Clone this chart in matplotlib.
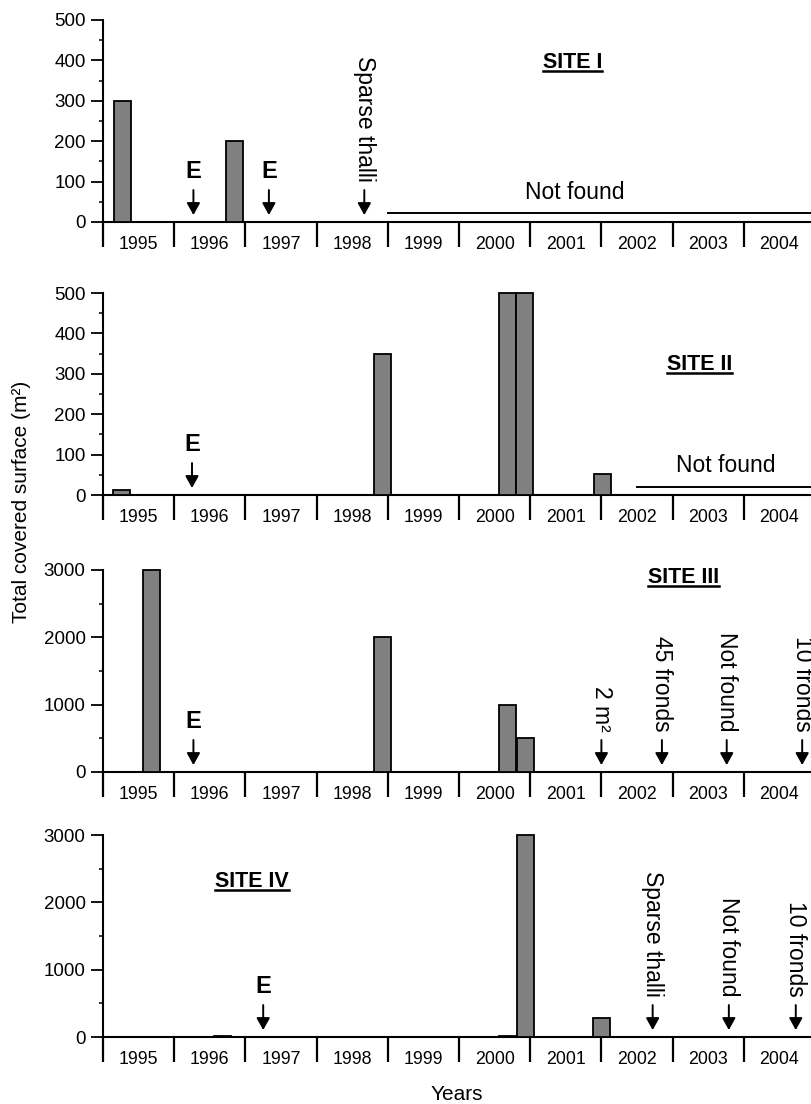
import matplotlib
matplotlib.use("Agg")
import matplotlib.pyplot as plt
from matplotlib.lines import Line2D


YEARS = list(range(1995, 2005))

# survey dates (decimal years) and total covered surface (m2)
SITE1_DATES = [1995.27, 1996.85]
SITE1_AREA = [300, 200]
SITE2_DATES = [1995.26, 1998.93, 2000.68, 2000.92, 2002.01]
SITE2_AREA = [13, 350, 500, 500, 52]
SITE3_DATES = [1995.68, 1998.93, 2000.68, 2000.93, 2002.0]
SITE3_AREA = [3000, 2000, 1000, 500, 2]
SITE4_DATES = [1996.68, 2000.68, 2000.93, 2002.0]
SITE4_AREA = [10, 20, 3000, 280]

# arrow notes
SITE1_NOTE_DATES = [1996.27, 1997.33, 1998.67]
SITE1_NOTES = ["E", "E", "Sparse thalli"]
SITE2_NOTE_DATES = [1996.25]
SITE2_NOTES = ["E"]
SITE3_NOTE_DATES = [1996.27, 2002.0, 2002.85, 2003.76, 2004.82]
SITE3_NOTES = ["E", "2 m²", "45 fronds", "Not found", "10 fronds"]
SITE4_NOTE_DATES = [1997.25, 2002.72, 2003.79, 2004.73]
SITE4_NOTES = ["E", "Sparse thalli", "Not found", "10 fronds"]

# "Not found" periods (start date)
SITE1_NOT_FOUND_FROM = 1999.0
SITE2_NOT_FOUND_FROM = 2002.5

FIG_W, FIG_H = 812, 1104
LEFT_PX = 103
YEAR_PX = 71.2
X_MAX = 1995 + (FIG_W - LEFT_PX) / YEAR_PX
BAR_WIDTH = 0.24
BAR_COLOR = "#808080"

plt.rcParams["font.family"] = ["Liberation Sans", "DejaVu Sans"]


def make_axes(fig, zero_px, ymax, major, minor):
    height = 202 / FIG_H
    ax = fig.add_axes([LEFT_PX / FIG_W, 1 - zero_px / FIG_H,
                       (FIG_W - LEFT_PX) / FIG_W, height])
    ax.set_xlim(1995, X_MAX)
    ax.set_ylim(0, ymax)
    for side in ("top", "right"):
        ax.spines[side].set_visible(False)
    for side in ("left", "bottom"):
        ax.spines[side].set_linewidth(1.5)

    ax.set_xticks(YEARS)
    ax.set_xticks([y + 0.5 for y in YEARS], minor=True)
    ax.set_xticklabels([])
    ax.set_xticklabels([str(y) for y in YEARS], minor=True)
    ax.tick_params(axis="x", which="major", direction="out", length=18, width=1.6)
    ax.tick_params(axis="x", which="minor", length=0, pad=10, labelsize=12.8)

    ax.set_yticks(range(0, ymax + 1, major))
    ax.set_yticks(range(0, ymax + 1, minor), minor=True)
    ax.tick_params(axis="y", which="major", direction="out", length=8.5,
                   width=1.3, pad=4, labelsize=13.5)
    ax.tick_params(axis="y", which="minor", direction="out", length=3, width=1.1)
    return ax


def draw_bars(ax, dates, area):
    ax.bar(dates, area, width=BAR_WIDTH, color=BAR_COLOR, edgecolor="black",
           linewidth=1.3, clip_on=False, zorder=3)


def draw_notes(ax, dates, notes):
    for x, note in zip(dates, notes):
        ax.annotate("", xy=(x, 0), xytext=(0, 23), textcoords="offset points",
                    arrowprops=dict(arrowstyle="-|>,head_length=0.45,head_width=0.25",
                                    color="black", lw=1.4, shrinkA=0, shrinkB=5,
                                    mutation_scale=16))
        if note == "E":
            ax.annotate(note, xy=(x, 0), xytext=(0, 28), textcoords="offset points",
                        ha="center", va="bottom", fontsize=17, fontweight="bold")
        else:
            ax.annotate(note, xy=(x, 0), xytext=(0, 29), textcoords="offset points",
                        ha="center", va="bottom", rotation=-90, fontsize=16.5)


def draw_not_found(ax, start, level, text_x):
    ax.plot([start, X_MAX], [level, level], color="black", lw=1.4, clip_on=False)
    ax.annotate("Not found", xy=(text_x, 0), xytext=(0, 13), textcoords="offset points",
                ha="center", va="bottom", fontsize=16.5)


def draw_title(fig, ax, text, x, y):
    t = ax.text(x, y, text, ha="center", va="center", fontsize=15.5, fontweight="bold")
    fig.canvas.draw()
    bb = t.get_window_extent()
    inv = fig.transFigure.inverted()
    (x0, y0), (x1, _) = inv.transform([(bb.x0, bb.y0 + 2), (bb.x1, bb.y0 + 2)])
    fig.add_artist(Line2D([x0, x1], [y0, y0], color="black", lw=1.8))


def main():
    fig = plt.figure(figsize=(FIG_W / 100, FIG_H / 100), dpi=100)

    ax1 = make_axes(fig, 222, 500, 100, 50)
    draw_bars(ax1, SITE1_DATES, SITE1_AREA)
    draw_notes(ax1, SITE1_NOTE_DATES, SITE1_NOTES)
    draw_not_found(ax1, SITE1_NOT_FOUND_FROM, 22, 2001.63)
    draw_title(fig, ax1, "SITE I", 2001.59, 396)

    ax2 = make_axes(fig, 495, 500, 100, 50)
    draw_bars(ax2, SITE2_DATES, SITE2_AREA)
    draw_notes(ax2, SITE2_NOTE_DATES, SITE2_NOTES)
    draw_not_found(ax2, SITE2_NOT_FOUND_FROM, 20, 2003.75)
    draw_title(fig, ax2, "SITE II", 2003.38, 322)

    ax3 = make_axes(fig, 772, 3000, 1000, 500)
    draw_bars(ax3, SITE3_DATES, SITE3_AREA)
    draw_notes(ax3, SITE3_NOTE_DATES, SITE3_NOTES)
    draw_title(fig, ax3, "SITE III", 2003.15, 2896)

    ax4 = make_axes(fig, 1037, 3000, 1000, 500)
    draw_bars(ax4, SITE4_DATES, SITE4_AREA)
    draw_notes(ax4, SITE4_NOTE_DATES, SITE4_NOTES)
    draw_title(fig, ax4, "SITE IV", 1997.09, 2313)

    fig.text(22 / FIG_W, 1 - 502 / FIG_H, "Total covered surface (m²)",
             rotation=90, ha="center", va="center", fontsize=15)
    fig.text(457 / FIG_W, 1 - 1094 / FIG_H, "Years",
             ha="center", va="center", fontsize=15)

    fig.savefig("out.png", dpi=100)
    plt.close(fig)


if __name__ == "__main__":
    main()
